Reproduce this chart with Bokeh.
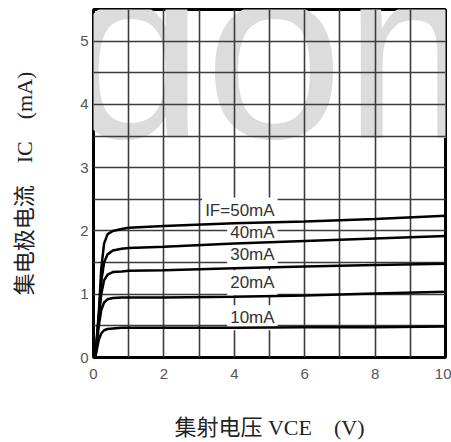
from bokeh.plotting import figure
from bokeh.models import Label, FixedTicker, ColumnDataSource
from bokeh.core.properties import value
from bokeh.embed import file_html
from bokeh.resources import INLINE

# ---- data ----
vce = [0.05, 0.15, 0.22, 0.3, 0.4, 0.55, 0.8, 1, 2, 4, 6, 8, 10]
ic_10 = [0, 0.28, 0.38, 0.43, 0.45, 0.46, 0.47, 0.47, 0.47, 0.47, 0.48, 0.48, 0.49]
ic_20 = [0, 0.50, 0.75, 0.87, 0.92, 0.94, 0.95, 0.95, 0.95, 0.96, 0.98, 1.01, 1.04]
ic_30 = [0, 0.60, 1.00, 1.22, 1.31, 1.35, 1.36, 1.37, 1.38, 1.41, 1.44, 1.46, 1.48]
ic_40 = [0, 0.65, 1.20, 1.50, 1.63, 1.69, 1.72, 1.73, 1.75, 1.80, 1.84, 1.88, 1.92]
ic_50 = [0, 0.70, 1.40, 1.80, 1.95, 2.00, 2.03, 2.05, 2.08, 2.12, 2.15, 2.19, 2.24]
series = [ic_10, ic_20, ic_30, ic_40, ic_50]

label_text = ["IF=50mA", "40mA", "30mA", "20mA", "10mA"]
label_x = [5.23, 5.23, 5.23, 5.23, 5.23]
label_y = [2.33, 1.97, 1.62, 1.18, 0.63]

x_ticks = [0, 2, 4, 6, 8, 10]
y_ticks = [0, 1, 2, 3, 4, 5]
x_grid = [1, 2, 3, 4, 5, 6, 7, 8, 9]
y_grid = [0.5, 1, 1.5, 2, 2.5, 3, 3.5, 4, 4.5, 5]

x_title = "集射电压 VCE\u3000(V)"
y_title = "集电极电流\u3000IC\u3000(mA)"
watermark = "dom"

p = figure(width=451, height=442, x_range=(0, 10), y_range=(0, 5.5),
           output_backend="svg", toolbar_location=None,
           min_border_left=93, min_border_right=6, min_border_top=9,
           min_border_bottom=85)

p.outline_line_color = "black"
p.outline_line_width = 3

p.xaxis.ticker = FixedTicker(ticks=x_ticks)
p.yaxis.ticker = FixedTicker(ticks=y_ticks)
p.xgrid.ticker = FixedTicker(ticks=x_grid)
p.ygrid.ticker = FixedTicker(ticks=y_grid)
for g in (p.xgrid, p.ygrid):
    g.grid_line_color = "#3c3c3c"
    g.grid_line_width = 1.6

for ax in p.axis:
    ax.axis_line_color = None
    ax.major_tick_line_color = None
    ax.minor_tick_line_color = None
    ax.major_tick_out = 0
    ax.major_tick_in = 0
    ax.major_label_text_font = "Liberation Sans"
    ax.major_label_text_font_size = "15px"
    ax.major_label_text_color = "#555555"
    ax.axis_label_text_font = "Liberation Serif, Noto Sans CJK SC"
    ax.axis_label_text_font_size = "22px"
    ax.axis_label_text_font_style = "normal"
    ax.axis_label_text_color = "#222222"

p.xaxis.axis_label = x_title
p.yaxis.axis_label = y_title
p.xaxis.major_label_standoff = 11
p.yaxis.major_label_standoff = 5
p.xaxis.axis_label_standoff = 33
p.yaxis.axis_label_standoff = 40

wm = Label(x=-0.80, y=4.837, text=watermark, text_font="Liberation Sans",
           text_font_size="250px", text_color="#dcdcdc",
           text_baseline="alphabetic", level="image")
p.add_layout(wm)

lsrc = ColumnDataSource(dict(x=label_x, y=label_y, text=label_text))
p.text(x="x", y="y", text="text", source=lsrc, text_align="right",
       text_baseline="middle", text_font=value("Liberation Sans"),
       text_font_size="17px", text_color="#333333",
       background_fill_color="white", padding=3)

for ys in series:
    p.line(vce, ys, line_color="black", line_width=2.5)

open("out.html", "w").write(file_html(p, INLINE))
